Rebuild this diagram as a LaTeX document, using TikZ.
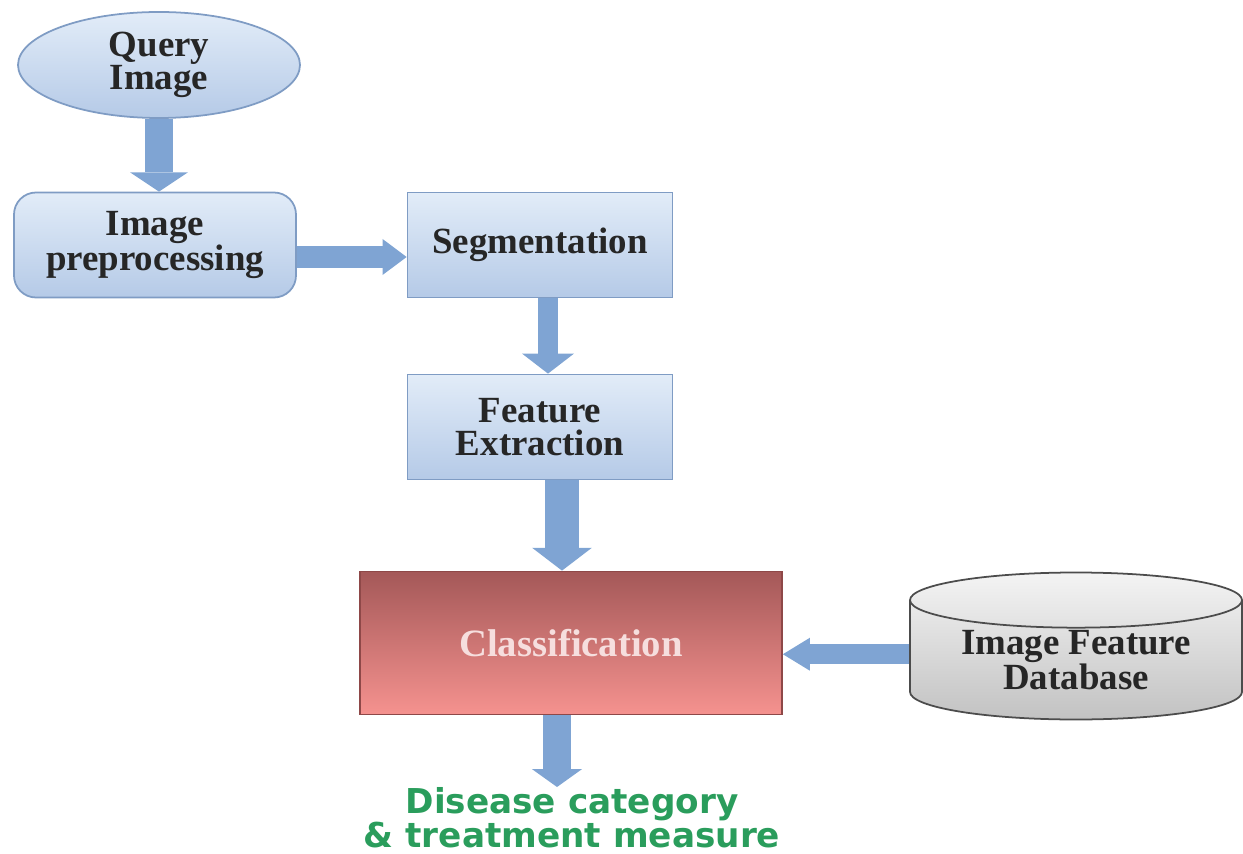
\documentclass[tikz,border=0pt]{standalone}
\usepackage{fontspec}
\setmainfont{Liberation Serif}
\newfontfamily\outfont{DejaVu Sans}
\usetikzlibrary{shapes.geometric,arrows.meta,calc}

\def\px{0.02cm} % one pixel of the layout

\definecolor{boxtop}{HTML}{E2ECF8}
\definecolor{boxbot}{HTML}{B5CAE7}
\definecolor{boxline}{HTML}{7F9CC4}
\definecolor{arrowfill}{HTML}{7FA4D3}
\definecolor{clstop}{HTML}{A45858}
\definecolor{clsbot}{HTML}{F5928F}
\definecolor{clsline}{HTML}{8E4848}
\definecolor{clstext}{HTML}{F6DEDE}
\definecolor{dbtop}{HTML}{F4F4F4}
\definecolor{dbbot}{HTML}{C2C2C2}
\definecolor{outgreen}{HTML}{2A9D5C}

\tikzset{
  boxfont/.style={font=\fontsize{21}{19}\selectfont\bfseries},
  stagebox/.style={boxfont, draw=boxline, line width=1pt, top color=boxtop,
    bottom color=boxbot, text=black!85, align=center, inner sep=0pt,
    minimum width=265*\px, minimum height=105*\px},
  querynode/.style={stagebox, ellipse, minimum width=282*\px, minimum height=106*\px},
  classbox/.style={draw=clsline, line width=1pt, top color=clstop, bottom color=clsbot,
    text=clstext, font=\fontsize{22}{20}\selectfont\bfseries, inner sep=0pt,
    minimum width=422*\px, minimum height=143*\px},
  dbnode/.style={boxfont, cylinder, shape border rotate=90, aspect=0.24,
    draw=black!70, line width=1pt, top color=dbtop, bottom color=dbbot,
    text=black!85, align=center, inner sep=0pt,
    minimum width=332*\px, minimum height=147*\px},
  outtext/.style={font=\outfont\fontsize{19.5}{19.5}\selectfont\bfseries, text=outgreen,
    align=center, inner sep=0pt},
  flow/.style n args={3}{draw=arrowfill, line width=#1,
    -{Triangle[width=#2, length=#3, line width=0pt]}}
}

\begin{document}
\begin{tikzpicture}[x=\px, y=-\px]

  \useasboundingbox (0,0) rectangle (1243,854);

  % stages
  \node[querynode] (query) at (159,65) {Query\\Image};
  \node[stagebox, rounded corners=0.44cm, minimum width=282*\px] (prep) at (155,245) {Image\\preprocessing};
  \node[stagebox] (seg) at (540,245) {Segmentation};
  \node[stagebox] (feat) at (540,427) {Feature\\Extraction};
  \node[classbox] (cls) at (571,643) {Classification};
  \node[dbnode, anchor=shape center] (db) at (1076,646) {Image Feature\\Database};
  \node[outtext, anchor=north] (out) at (572,787) {Disease category\\\& treatment measure};

  % arrows
  \draw[flow={16pt}{33pt}{11pt}] (query.south) -- (query.south |- prep.north);
  \draw[flow={12.5pt}{20.5pt}{13.7pt}] ([yshift=-0.24cm]prep.east) -- ([yshift=-0.24cm]prep.east -| seg.west);
  \draw[flow={11.4pt}{29.6pt}{11.4pt}] ([xshift=0.16cm]seg.south) -- ([xshift=0.16cm]seg.south |- feat.north);
  \draw[flow={18.8pt}{34pt}{13pt}] ([xshift=0.44cm]feat.south) -- ([xshift=0.44cm]feat.south |- cls.north);
  \draw[flow={11.4pt}{18.8pt}{15.4pt}] ([yshift=0.12cm]db.west) -- ([yshift=0.12cm]db.west -| cls.east);
  \draw[flow={15.4pt}{28.5pt}{10.2pt}] ([xshift=-0.28cm]cls.south) -- ([xshift=-0.28cm]cls.south |- out.north);

\end{tikzpicture}
\end{document}
